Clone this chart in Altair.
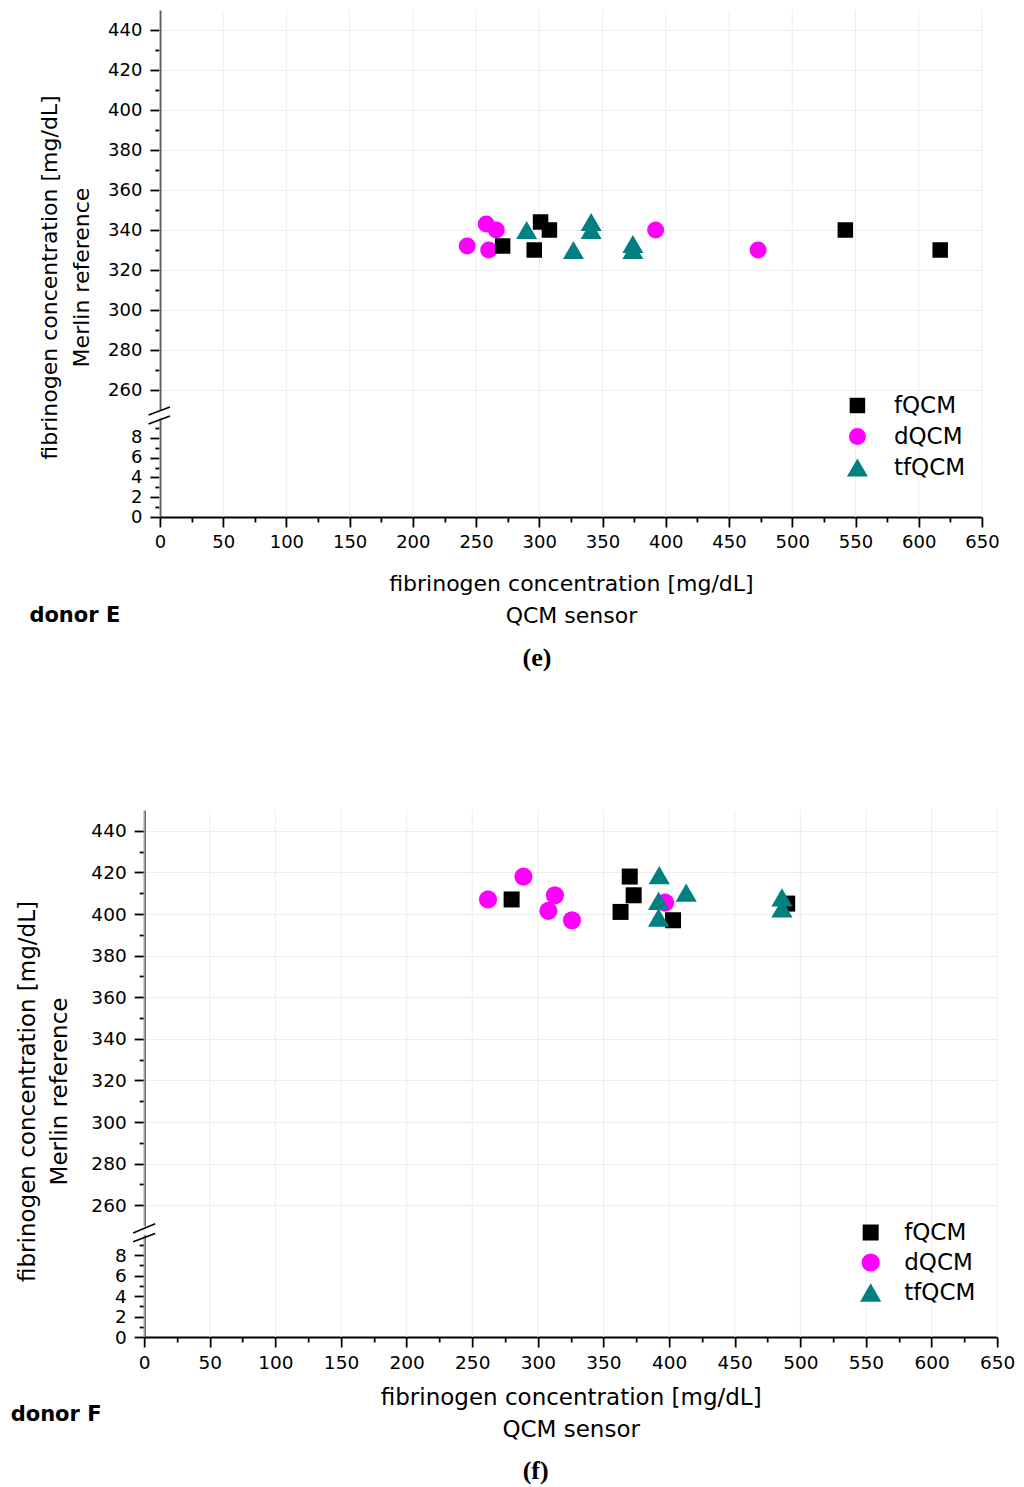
import altair as alt
import pandas as pd

FONT = "DejaVu Sans"
SERIES = ["fQCM", "dQCM", "tfQCM"]
COLORS = ["#000000", "#ff00ff", "#008080"]
SHAPES = ["square", "circle", "triangle-up"]

# --- donor E (QCM sensor x, Merlin reference y), mg/dL ---
e_fqcm_x = [271, 296, 301, 308, 542, 617]
e_fqcm_y = [332, 330, 344, 340, 340, 330]
e_dqcm_x = [243, 258, 266, 260, 392, 473]
e_dqcm_y = [332, 343, 340, 330, 340, 330]
e_tfqcm_x = [290, 341, 341, 327, 374, 374]
e_tfqcm_y = [340, 344, 340, 330, 333, 330]

# --- donor F ---
f_fqcm_x = [280, 370, 373, 363, 403, 490]
f_fqcm_y = [407, 418, 409, 401, 397, 405]
f_dqcm_x = [262, 289, 313, 308, 326, 397]
f_dqcm_y = [407, 418, 409, 401.5, 397, 405.5]
f_tfqcm_x = [392.5, 413, 392, 392, 486, 486]
f_tfqcm_y = [418.7, 410.3, 406.3, 398.3, 408, 402.7]

# axis ticks (major + minor)
x_ticks = list(range(0, 651, 25))
x_grid = list(range(0, 651, 50))
upper_ticks = list(range(260, 441, 10))
lower_ticks = list(range(0, 10))


def points_frame(groups):
    rows = []
    for name, xs, ys in groups:
        for x, y in zip(xs, ys):
            rows.append({"x": x, "y": y, "series": name})
    return pd.DataFrame(rows)


def cond(test, major, minor):
    return {"condition": {"test": test, "value": major}, "value": minor}


def make_panel(df, p):
    x_enc = alt.X(
        "x:Q",
        scale=alt.Scale(domain=[0, 650], nice=False, zero=False),
        axis=alt.Axis(
            values=x_ticks,
            labelExpr="datum.value % 50 === 0 ? datum.label : ''",
            tickSize=cond("datum.value % 50 === 0", 10, 5),
            grid=False,
            labelOverlap=False,
            labelFlush=False,
            labelPadding=6,
            labelFontSize=p["tick_fs"],
            title=["fibrinogen concentration [mg/dL]", "QCM sensor"],
            titleFontSize=p["title_fs"],
            titleFontWeight="normal",
            titleLineHeight=32,
            titleX=p["width"] / 2,
            titleY=p["xtitle_y"],
            titleAlign="center",
            titleBaseline="middle",
        ),
    )

    upper_axis = alt.Axis(
        orient="left",
        values=upper_ticks,
        labelExpr="datum.value % 20 === 0 ? datum.label : ''",
        tickSize=cond("datum.value % 20 === 0", 10, 5),
        gridOpacity=cond("datum.value % 20 === 0", 1, 0),
        labelOverlap=False,
        labelFlush=False,
        labelPadding=8,
        labelFontSize=p["tick_fs"],
        title=["fibrinogen concentration [mg/dL]", "Merlin reference"],
        titleFontSize=p["title_fs"],
        titleFontWeight="normal",
        titleLineHeight=32,
        titleAngle=270,
        titleX=p["ytitle_x"],
        titleY=p["ytitle_y"],
        titleAlign="center",
        titleBaseline="middle",
    )
    lower_axis = alt.Axis(
        orient="left",
        values=lower_ticks,
        labelExpr="datum.value % 2 === 0 ? datum.label : ''",
        tickSize=cond("datum.value % 2 === 0", 10, 5),
        gridOpacity=cond("datum.value % 2 === 0", 1, 0),
        labelOverlap=False,
        labelFlush=False,
        labelPadding=8,
        labelFontSize=p["tick_fs"],
        title=p["donor"],
        titleFontSize=21,
        titleFontWeight="bold",
        titleAngle=0,
        titleX=p["donor_x"],
        titleY=p["donor_y"],
        titleAlign="left",
        titleBaseline="middle",
    )
    upper_scale = alt.Scale(domain=[250, 450], range=p["upper_range"], nice=False, zero=False)
    lower_scale = alt.Scale(domain=[0, 10], range=p["lower_range"], nice=False, zero=False)

    grid = alt.Chart(pd.DataFrame({"x": x_grid})).mark_rule(
        color="#ececec", strokeWidth=1
    ).encode(x=x_enc)

    pts = alt.Chart(df).mark_point(filled=True, opacity=1).encode(
        x=x_enc,
        y=alt.Y("y:Q", scale=upper_scale, axis=upper_axis),
        color=alt.Color("series:N", scale=alt.Scale(domain=SERIES, range=COLORS),
                        legend=alt.Legend(
                            title=None, orient="none",
                            legendX=p["legend_x"], legendY=p["legend_y"],
                            labelFont=FONT, labelFontSize=23, labelOffset=p["legend_off"],
                            rowPadding=p["legend_row"], padding=0, symbolStrokeWidth=0,
                        )),
        shape=alt.Shape("series:N", scale=alt.Scale(domain=SERIES, range=SHAPES)),
        size=alt.Size("series:N",
                      scale=alt.Scale(type="ordinal", domain=SERIES, range=p["sizes"])),
    )

    brk = p["brk"]
    up_brk = alt.Chart(pd.DataFrame({
        "x": [brk[0]], "x2": [brk[1]], "y": [brk[2]], "y2": [brk[3]],
    })).mark_rule(color="black", strokeWidth=1.6).encode(
        x=x_enc, x2="x2:Q",
        y=alt.Y("y:Q", scale=upper_scale, axis=upper_axis), y2="y2:Q",
    )
    low_brk = alt.Chart(pd.DataFrame({
        "x": [brk[0]], "x2": [brk[1]], "y": [brk[4]], "y2": [brk[5]],
    })).mark_rule(color="black", strokeWidth=1.6).encode(
        x=x_enc, x2="x2:Q",
        y=alt.Y("y:Q", scale=lower_scale, axis=lower_axis), y2="y2:Q",
    )

    return alt.layer(
        grid, alt.layer(pts, up_brk), low_brk
    ).resolve_scale(y="independent").properties(
        width=p["width"], height=p["height"],
        title=alt.TitleParams(
            text=p["label"], orient="bottom", font="Liberation Serif",
            fontSize=26, fontWeight="bold", color="black",
            dx=p["label_dx"], offset=p["label_off"],
        ),
    )


df_e = points_frame([
    ("dQCM", e_dqcm_x, e_dqcm_y),
    ("fQCM", e_fqcm_x, e_fqcm_y),
    ("tfQCM", e_tfqcm_x, e_tfqcm_y),
])
df_f = points_frame([
    ("dQCM", f_dqcm_x, f_dqcm_y),
    ("fQCM", f_fqcm_x, f_fqcm_y),
    ("tfQCM", f_tfqcm_x, f_tfqcm_y),
])

panel_e = make_panel(df_e, {
    "width": 822, "height": 507,
    "upper_range": [400, 0], "lower_range": [507, 408],
    "tick_fs": 18, "title_fs": 22,
    "xtitle_y": 66, "ytitle_x": -110, "ytitle_y": 267,
    "donor": "donor E", "donor_x": -131, "donor_y": 605,
    "legend_x": 686, "legend_y": 384, "legend_off": 25, "legend_row": 7,
    "sizes": [240, 289, 441],
    "brk": [-9, 8, 247.5, 251.5, 9.4, 10.2],
    "label": "(e)", "label_dx": -34, "label_off": 19,
})
panel_f = make_panel(df_f, {
    "width": 853, "height": 527,
    "upper_range": [416, 0], "lower_range": [527, 424.5],
    "tick_fs": 18.5, "title_fs": 23,
    "xtitle_y": 60, "ytitle_x": -117, "ytitle_y": 281,
    "donor": "donor F", "donor_x": -134, "donor_y": 604,
    "legend_x": 715, "legend_y": 411, "legend_off": 22, "legend_row": 6,
    "sizes": [256, 330, 450],
    "brk": [-8.4, 8.4, 246.6, 251.1, 9.3, 10.1],
    "label": "(f)", "label_dx": -35, "label_off": 17,
})

chart = alt.vconcat(panel_e, panel_f, spacing=138, center=True).resolve_scale(
    size="independent",
).resolve_legend(
    color="independent", shape="independent", size="independent",
).properties(
    padding={"left": 2, "top": 1, "right": 0, "bottom": 5},
    background="white",
).configure_view(
    strokeWidth=0,
).configure_axis(
    labelFont=FONT, titleFont=FONT, labelColor="black", titleColor="black",
    domainColor="black", domainWidth=1.8, tickColor="black", tickWidth=1.8,
    gridColor="#ececec", gridWidth=1,
)

chart.save("out.html", embed_options={"renderer": "svg", "actions": False})
